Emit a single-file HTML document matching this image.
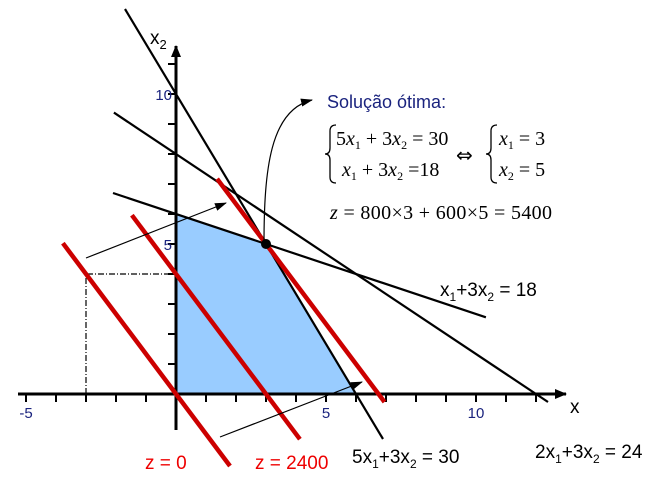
<!DOCTYPE html>
<html><head><meta charset="utf-8"><style>
body{margin:0;background:#fff;}
svg{display:block;font-family:"Liberation Sans",sans-serif;}
.eq{font-family:"Liberation Serif",serif;font-size:20px;}
</style></head><body>
<svg id="chart" width="657" height="484" viewBox="0 0 657 484">
<defs>
<marker id="ah" markerUnits="userSpaceOnUse" markerWidth="12" markerHeight="10" refX="11" refY="5" orient="auto"><path d="M0,0 L12,5 L0,10 Z" fill="#000"/></marker>
<marker id="ahs" markerUnits="userSpaceOnUse" markerWidth="12" markerHeight="8" refX="11" refY="4" orient="auto"><path d="M0,0 L12,4 L0,8 Z" fill="#000"/></marker>
</defs>
<g id="g"></g>
</svg>
<script>
const xTicks=[-5,-4,-3,-2,-1,1,2,3,4,5,6,7,8,9,10,11,12];
const xTickLabels=[-5,5,10];
const yTicks=[1,2,3,4,5,6,7,8,9,10,11];
const yTickLabels=[5,10];
const region=[[0,0],[0,6],[3,5],[6,0]];
const constraintNames=["5x1+3x2=30","x1+3x2=18","2x1+3x2=24"];
const constraintA=[5,1,2];
const constraintB=[3,3,3];
const constraintC=[30,18,24];
const constraintFrom=[-1.7,-2.1,-2.07];
const constraintTo=[6.9,10.33,12.4];
const zValues=[0,2400,5400];
const zFrom=[-3.77,-1.47,1.37];
const zTo=[1.8,4.13,6.95];
const optimum=[3,5];
const samplePoint=[-3,4];
const NS="http://www.w3.org/2000/svg";
const g=document.getElementById('g');
const X=v=>176+v*30, Y=v=>394-v*30;
function mk(t,a,p){const e=document.createElementNS(NS,t);for(const k in a)e.setAttribute(k,a[k]);(p||g).appendChild(e);return e;}
const poly=mk('polygon',{points:region.map(p=>X(p[0])+','+Y(p[1])).join(' '),fill:'#99ccff'});


const gd=mk('polyline',{points:`${X(samplePoint[0])},${Y(0)} ${X(samplePoint[0])},${Y(samplePoint[1])} ${X(0)},${Y(samplePoint[1])}`,fill:'none',stroke:'#000','stroke-width':1.2,'stroke-dasharray':'6,2,1,2'});


const xa=mk('line',{x1:18,y1:Y(0),x2:566,y2:Y(0),stroke:'#000','stroke-width':3,'marker-end':'url(#ah)'});


const ya=mk('line',{x1:X(0),y1:Y(-1.2),x2:X(0),y2:46,stroke:'#000','stroke-width':3,'marker-end':'url(#ah)'});


xTicks.forEach(t=>{const e=mk('line',{x1:X(t),y1:Y(0),x2:X(t),y2:Y(0)+8,stroke:'#000','stroke-width':2});

});
yTicks.forEach(t=>{const e=mk('line',{x1:X(0)-8,y1:Y(t),x2:X(0),y2:Y(t),stroke:'#000','stroke-width':2});

});
xTickLabels.forEach(t=>{const e=mk('text',{x:X(t),y:Y(0)+24,'text-anchor':'middle','font-size':15,fill:'#1a237e'});e.textContent=t;

});
yTickLabels.forEach(t=>{const e=mk('text',{x:X(0)-4,y:Y(t)+6,'text-anchor':'end','font-size':15,fill:'#1a237e'});e.textContent=t;

});
constraintA.forEach((a,i)=>{const b=constraintB[i],c=constraintC[i];const f=x=>(c-a*x)/b;
const e=mk('line',{x1:X(constraintFrom[i]),y1:Y(f(constraintFrom[i])),x2:X(constraintTo[i]),y2:Y(f(constraintTo[i])),stroke:'#000','stroke-width':2.2});

});
zValues.forEach((z,i)=>{const f=x=>(z-800*x)/600;
const e=mk('line',{x1:X(zFrom[i]),y1:Y(f(zFrom[i])),x2:X(zTo[i]),y2:Y(f(zTo[i])),stroke:'#cc0000','stroke-width':4.5});

});
const a1=mk('line',{x1:86,y1:258,x2:226,y2:203,stroke:'#000','stroke-width':1.2,'marker-end':'url(#ahs)'});


const a2=mk('line',{x1:220,y1:437,x2:362,y2:382,stroke:'#000','stroke-width':1.2,'marker-end':'url(#ahs)'});


const a3=mk('path',{d:`M${X(optimum[0])-2},${Y(optimum[1])} C ${X(optimum[0])-2},170 270,110 312,100`,fill:'none',stroke:'#000','stroke-width':1.2,'marker-end':'url(#ahs)'});


const dot=mk('circle',{cx:X(optimum[0]),cy:Y(optimum[1]),r:5,fill:'#000'});


</script>
<svg width="657" height="484" style="position:absolute;left:0;top:0">
<text x="150" y="44" font-size="19">x<tspan font-size="13" dy="5">2</tspan></text>
<text x="570" y="413" font-size="19">x</text>
<text x="327" y="108" font-size="18" fill="#1a237e">Solução ótima:</text>
<path d="M336,125 Q330,125 330,131 L330,148 Q330,154 325,154 Q330,154 330,160 L330,177 Q330,183 336,183" fill="none" stroke="#000" stroke-width="1.3"/>
<path d="M497,125 Q491,125 491,131 L491,148 Q491,154 486,154 Q491,154 491,160 L491,177 Q491,183 497,183" fill="none" stroke="#000" stroke-width="1.3"/>
<text class="eq" x="336" y="145"><tspan>5</tspan><tspan font-style="italic">x</tspan><tspan font-size="12" dy="4">1</tspan><tspan dy="-4"> + 3</tspan><tspan font-style="italic">x</tspan><tspan font-size="12" dy="4">2</tspan><tspan dy="-4"> = 30</tspan></text>
<text class="eq" x="342" y="176"><tspan font-style="italic">x</tspan><tspan font-size="12" dy="4">1</tspan><tspan dy="-4"> + 3</tspan><tspan font-style="italic">x</tspan><tspan font-size="12" dy="4">2</tspan><tspan dy="-4"> =18</tspan></text>
<text x="456" y="162" font-size="20" font-family="DejaVu Sans">⇔</text>
<text class="eq" x="499" y="145"><tspan font-style="italic">x</tspan><tspan font-size="12" dy="4">1</tspan><tspan dy="-4"> = 3</tspan></text>
<text class="eq" x="499" y="176"><tspan font-style="italic">x</tspan><tspan font-size="12" dy="4">2</tspan><tspan dy="-4"> = 5</tspan></text>
<text class="eq" x="330" y="219" textLength="222"><tspan font-style="italic">z</tspan> = 800×3 + 600×5 = 5400</text>
<text x="440" y="296" font-size="19">x<tspan font-size="12" dy="5">1</tspan><tspan dy="-5">+3x</tspan><tspan font-size="12" dy="5">2</tspan><tspan dy="-5"> = 18</tspan></text>
<text x="352" y="463" font-size="19">5x<tspan font-size="12" dy="5">1</tspan><tspan dy="-5">+3x</tspan><tspan font-size="12" dy="5">2</tspan><tspan dy="-5"> = 30</tspan></text>
<text x="535" y="458" font-size="19">2x<tspan font-size="12" dy="5">1</tspan><tspan dy="-5">+3x</tspan><tspan font-size="12" dy="5">2</tspan><tspan dy="-5"> = 24</tspan></text>
<text x="145" y="469" font-size="19" fill="#ee0000">z = 0</text>
<text x="255" y="469" font-size="19" fill="#ee0000">z = 2400</text>
</svg>
</body></html>
